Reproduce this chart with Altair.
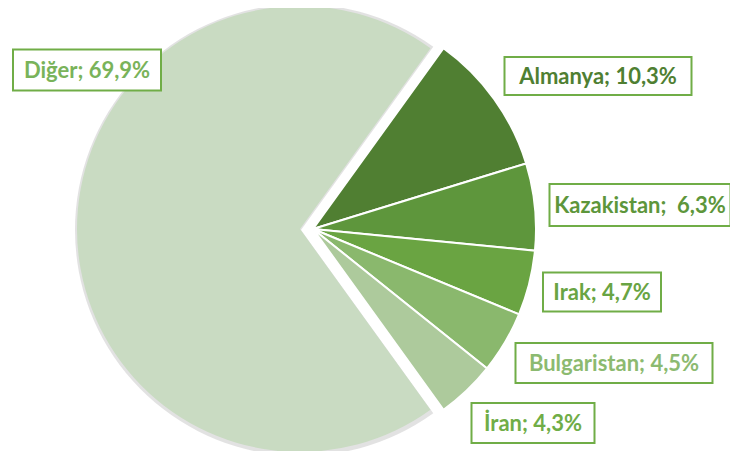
import math
import altair as alt
import pandas as pd

# ---- data ----
categories = ["Almanya", "Kazakistan", "Irak", "Bulgaristan", "İran", "Diğer"]
shares = [10.3, 6.3, 4.7, 4.5, 4.3, 69.9]
label_texts = ["Almanya; 10,3%", "Kazakistan;\u00a0 6,3%", "Irak; 4,7%",
               "Bulgaristan; 4,5%", "İran; 4,3%", "Diğer; 69,9%"]

# ---- styles ----
slice_colors = ["#507f32", "#5e963c", "#6aa442", "#8ab86d", "#adca9c", "#c9dbc2"]
text_colors = ["#4f7f32", "#5d963b", "#69a443", "#8cba70", "#70ad47", "#79b35a"]
# label box layout: centre x, centre y, width, height (pixels)
label_boxes = [
    (590, 68, 187, 38),
    (632, 197, 181, 42),
    (594, 284, 118, 39),
    (606, 355, 197, 40),
    (525, 415, 123, 40),
    (79, 62, 148, 41),
]

W, H = 722, 443
CX, CY, R = 305, 221, 223
EXPLODE = 13
start = math.radians(90 - sum(shares[:5]) / 100 * 360 / 2)

df = pd.DataFrame({
    "category": categories,
    "share": shares,
    "order": list(range(len(categories))),
    "color": slice_colors,
})

base = alt.Chart(df).transform_window(
    cum="sum(share)", sort=[alt.SortField("order")], frame=[None, 0]
).transform_calculate(start="datum.cum - datum.share")

theta = alt.Theta("start:Q", scale=alt.Scale(domain=[0, 100], range=[start, start + 2 * math.pi]))
theta2 = alt.Theta2("cum:Q")

small = base.transform_filter(alt.datum.category != "Diğer").mark_arc(
    radius=R, stroke="white", strokeWidth=2
).encode(
    theta=theta, theta2=theta2,
    color=alt.Color("color:N", scale=None),
    x=alt.value(CX), y=alt.value(CY),
)

big_shadow = base.transform_filter(alt.datum.category == "Diğer").mark_arc(
    radius=R + 3, fill="#d6d6d6", opacity=0.7
).encode(
    theta=theta, theta2=theta2,
    x=alt.value(CX - EXPLODE + 1), y=alt.value(CY + 1),
)

big = base.transform_filter(alt.datum.category == "Diğer").mark_arc(
    radius=R
).encode(
    theta=theta, theta2=theta2,
    color=alt.Color("color:N", scale=None),
    x=alt.value(CX - EXPLODE), y=alt.value(CY),
)

ldf = pd.DataFrame({
    "label": label_texts,
    "tcolor": text_colors,
    "cx": [b[0] for b in label_boxes],
    "cy": [b[1] for b in label_boxes],
    "w": [b[2] for b in label_boxes],
    "h": [b[3] for b in label_boxes],
})
lbase = alt.Chart(ldf).transform_calculate(
    x0="datum.cx - datum.w/2", x1="datum.cx + datum.w/2",
    y0="datum.cy - datum.h/2", y1="datum.cy + datum.h/2",
)
boxes = lbase.mark_rect(fill="white", stroke="#70ad47", strokeWidth=2).encode(
    x=alt.X("x0:Q", scale=None), x2="x1:Q",
    y=alt.Y("y0:Q", scale=None), y2="y1:Q",
)
texts = lbase.mark_text(font="Lato", fontWeight="bold", fontSize=22,
                        align="center", baseline="middle", dy=1).encode(
    x=alt.X("cx:Q", scale=None), y=alt.Y("cy:Q", scale=None),
    text="label:N",
    color=alt.Color("tcolor:N", scale=None),
)

chart = alt.layer(big_shadow, big, small, boxes, texts).properties(
    width=W, height=H, autosize="none", padding=0
).configure_view(stroke=None)

chart.save("out.html", embed_options={"renderer": "svg", "actions": False})
